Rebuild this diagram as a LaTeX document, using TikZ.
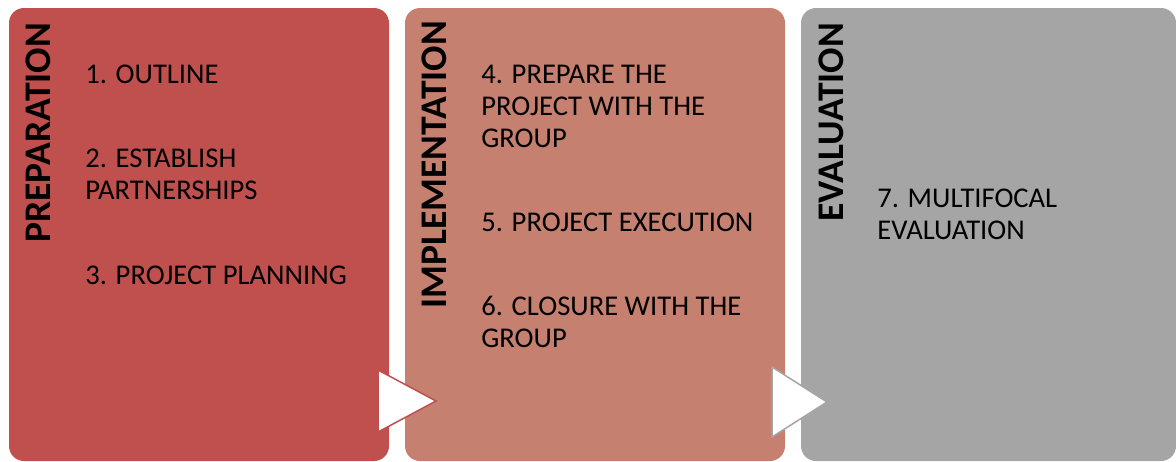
\documentclass[tikz,border=0pt]{standalone}
\usepackage{fontspec}
\setmainfont{Carlito}
\definecolor{cPrep}{HTML}{C0504D}
\definecolor{cImpl}{HTML}{C58070}
\definecolor{cEval}{HTML}{A5A5A5}
\begin{document}
\begin{tikzpicture}[x=0.5pt,y=-0.5pt,
  phase/.style={rounded corners=7.5pt},
  title/.style={anchor=base west,rotate=90,inner sep=0pt,font=\fontsize{18.8}{20}\selectfont\bfseries},
  item/.style={anchor=base west,inner sep=0pt,align=left,font=\fontsize{14.3}{16}\selectfont},
  arrowtri/.style={fill=white,line width=0.75pt,line join=miter}]
\useasboundingbox (0,0) rectangle (1176,461);
\fill[white] (0,0) rectangle (1176,461);
% boxes
\fill[phase,cPrep] (9,8) rectangle (389,461);
\fill[phase,cImpl] (405,8) rectangle (785,461);
\fill[phase,cEval] (801,8) rectangle (1176,461);
% titles
\node[title] (tPrep) at (50,243) {PREPARATION};
\node[title] (tImpl) at (446,309) {IMPLEMENTATION};
\node[title] (tEval) at (843,222) {EVALUATION};
% items (base anchor = baseline of last line)
\node[item] (i1) at (85,83) {1. OUTLINE};
\node[item] (i2) at (85,199) {2. ESTABLISH\\PARTNERSHIPS};
\node[item] (i3) at (85,284) {3. PROJECT PLANNING};
\node[item] (i4) at (481,147) {4. PREPARE THE\\PROJECT WITH THE\\GROUP};
\node[item] (i5) at (481,231) {5. PROJECT EXECUTION};
\node[item] (i6) at (481,347) {6. CLOSURE WITH THE\\GROUP};
\node[item] (i7) at (877,239) {7. MULTIFOCAL\\EVALUATION};
% arrows
\draw[arrowtri,draw=cPrep] (378,370) -- (436,401) -- (378,432) -- cycle;
\draw[arrowtri,draw=cEval] (772,367) -- (827,402) -- (772,437) -- cycle;
\end{tikzpicture}
\end{document}
